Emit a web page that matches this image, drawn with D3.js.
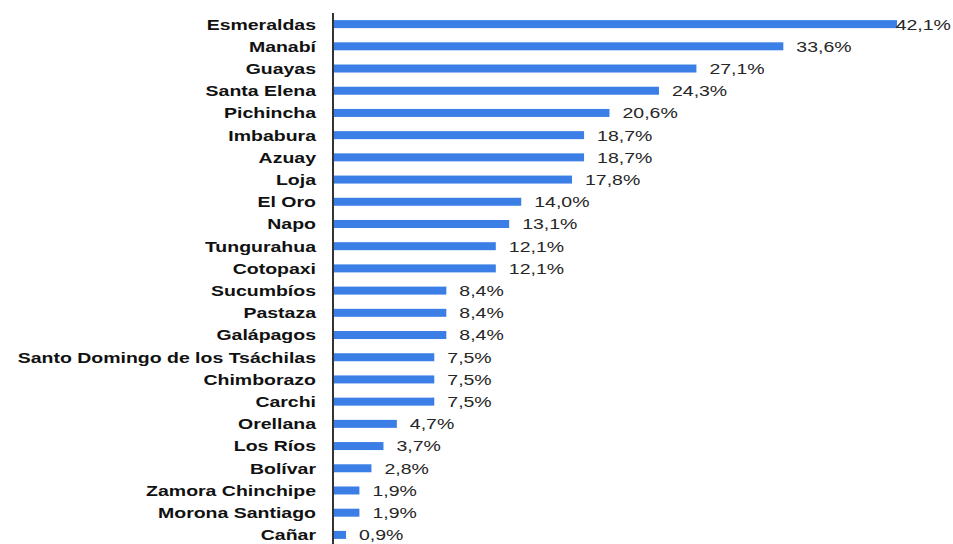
<!DOCTYPE html>
<html>
<head>
<meta charset="utf-8">
<script src="https://cdn.jsdelivr.net/npm/d3@7"></script>
<style>
  html, body { margin: 0; padding: 0; background: #ffffff; }
  svg { display: block; }
</style>
</head>
<body>
<div id="chart"></div>
<script>
// Provinces, ordered from highest to lowest share
const provinces = [
  "Esmeraldas", "Manabí", "Guayas", "Santa Elena", "Pichincha", "Imbabura",
  "Azuay", "Loja", "El Oro", "Napo", "Tungurahua", "Cotopaxi", "Sucumbíos",
  "Pastaza", "Galápagos", "Santo Domingo de los Tsáchilas", "Chimborazo",
  "Carchi", "Orellana", "Los Ríos", "Bolívar", "Zamora Chinchipe",
  "Morona Santiago", "Cañar"
];
const shares = [
  42.1, 33.6, 27.1, 24.3, 20.6, 18.7,
  18.7, 17.8, 14.0, 13.1, 12.1, 12.1, 8.4,
  8.4, 8.4, 7.5, 7.5,
  7.5, 4.7, 3.7, 2.8, 1.9,
  1.9, 0.9
];

const W = 953, H = 544;
const axisX = 333;
const stretch = 1.3;           // wide rendering of the text glyphs
const barColor = "#3b7ee6";

const data = provinces.map((p, i) => ({ name: p, value: shares[i] }));

const svg = d3.select("#chart").append("svg")
  .attr("width", W).attr("height", H);

const y = d3.scaleBand()
  .domain(provinces)
  .range([13, 546])
  .paddingInner(0.64)
  .paddingOuter(0.32);

const x = d3.scaleLinear()
  .domain([0, 42.1])
  .range([axisX + 1, 897]);

const fmt = v => d3.format(".1f")(v).replace(".", ",") + "%";

// Bars
svg.append("g").selectAll("rect")
  .data(data)
  .join("rect")
  .attr("x", x(0))
  .attr("y", d => y(d.name))
  .attr("width", d => x(d.value) - x(0))
  .attr("height", y.bandwidth())
  .attr("fill", barColor);

// Category axis line
svg.append("line")
  .attr("x1", axisX).attr("x2", axisX)
  .attr("y1", 13).attr("y2", H)
  .attr("stroke", "#000").attr("stroke-width", 1.6);

// Province labels
svg.append("g").selectAll("text")
  .data(data)
  .join("text")
  .attr("transform", d => `translate(316,${y(d.name) + y.bandwidth() / 2}) scale(${stretch},1)`)
  .attr("text-anchor", "end")
  .attr("dy", "0.36em")
  .attr("font-family", "'Liberation Sans', Arial, sans-serif")
  .attr("font-weight", "bold")
  .attr("font-size", 15)
  .attr("fill", "#111")
  .text(d => d.name);

// Value labels, kept inside the drawing width
const valueG = svg.append("g");
valueG.selectAll("text")
  .data(data)
  .join("text")
  .attr("text-anchor", "start")
  .attr("dy", "0.36em")
  .attr("font-family", "'Liberation Sans', Arial, sans-serif")
  .attr("font-size", 15)
  .attr("fill", "#262626")
  .text(d => fmt(d.value))
  .each(function (d) {
    const w = this.getComputedTextLength() * stretch;
    const tx = Math.min(x(d.value) + 13, W - w - 2);
    d3.select(this).attr("transform",
      `translate(${tx},${y(d.name) + y.bandwidth() / 2}) scale(${stretch},1)`);
  });
</script>
</body>
</html>
